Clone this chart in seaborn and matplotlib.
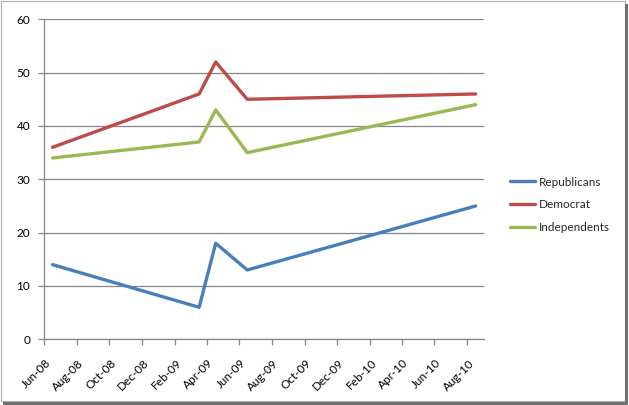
import matplotlib
matplotlib.use("Agg")
import matplotlib.pyplot as plt
import matplotlib.dates as mdates
import matplotlib.transforms as mtransforms
from matplotlib.patches import Rectangle
import pandas as pd
import seaborn as sns

dates = ["2008-06-17", "2009-03-18", "2009-04-18", "2009-06-16", "2010-08-17"]
republicans = [14, 6, 18, 13, 25]
democrat = [36, 46, 52, 45, 46]
independents = [34, 37, 43, 35, 44]
series_names = ["Republicans", "Democrat", "Independents"]
colors = ["#4A7EBB", "#BE4B48", "#98B954"]
y_ticks = [0, 10, 20, 30, 40, 50, 60]

rows = []
for name, vals in zip(series_names, [republicans, democrat, independents]):
    for d, v in zip(dates, vals):
        rows.append({"date": pd.Timestamp(d), "value": v, "series": name})
df = pd.DataFrame(rows)

sns.set_theme(style="white")
plt.rcParams["font.family"] = ["Lato", "DejaVu Sans"]

fig = plt.figure(figsize=(6.29, 4.05), dpi=100)
ax = fig.add_axes([44 / 629, 1 - 339.3 / 405, (483.7 - 44) / 629, (339.3 - 19.3) / 405])

sns.lineplot(data=df, x="date", y="value", hue="series", hue_order=series_names,
             palette=colors, linewidth=2.4, ax=ax, legend=True, sort=True)

ax.set_xlim(pd.Timestamp("2008-06-01"), pd.Timestamp("2010-09-01"))
ax.set_ylim(0, 60)
ax.set_yticks(y_ticks)
ax.xaxis.set_major_locator(mdates.MonthLocator(bymonth=[2, 4, 6, 8, 10, 12]))
ax.xaxis.set_major_formatter(mdates.DateFormatter("%b-%y"))
ax.set_xlabel("")
ax.set_ylabel("")

ax.grid(axis="y", color="#868686", linewidth=0.9)
ax.grid(axis="x", visible=False)
ax.set_axisbelow(True)
for s in ["top", "right"]:
    ax.spines[s].set_visible(False)
for s in ["left", "bottom"]:
    ax.spines[s].set_color("#868686")
    ax.spines[s].set_linewidth(0.9)
ax.tick_params(axis="both", which="major", direction="out", length=4, width=0.9,
               color="#868686", labelsize=8.5, labelcolor="black", left=True, bottom=True)
ax.tick_params(axis="y", pad=6)
ax.tick_params(axis="x", pad=9)
offset = mtransforms.ScaledTranslation(1 / 100, 0, fig.dpi_scale_trans)
for lbl in ax.get_xticklabels():
    lbl.set_rotation(45)
    lbl.set_ha("right")
    lbl.set_va("top")
    lbl.set_rotation_mode("anchor")
    lbl.set_transform(lbl.get_transform() + offset)

leg = ax.legend(loc="center left", bbox_to_anchor=(1.035, 0.42), frameon=False,
                fontsize=8.5, handlelength=2.1, handletextpad=0.35, labelspacing=1.0)
for line in leg.get_lines():
    line.set_linewidth(2.4)

# chart frame with shadow
fig.patches.append(Rectangle((1 / 629, 4 / 405), 624 / 629, 400 / 405, transform=fig.transFigure,
                             fill=False, edgecolor="#B0B0B0", linewidth=0.8, zorder=0))
fig.patches.append(Rectangle((625 / 629, 0), 3 / 629, 401 / 405, transform=fig.transFigure,
                             facecolor="#707070", edgecolor="none", zorder=0))
fig.patches.append(Rectangle((3 / 629, 0), 625 / 629, 3 / 405, transform=fig.transFigure,
                             facecolor="#707070", edgecolor="none", zorder=0))

fig.savefig("out.png", dpi=100)
